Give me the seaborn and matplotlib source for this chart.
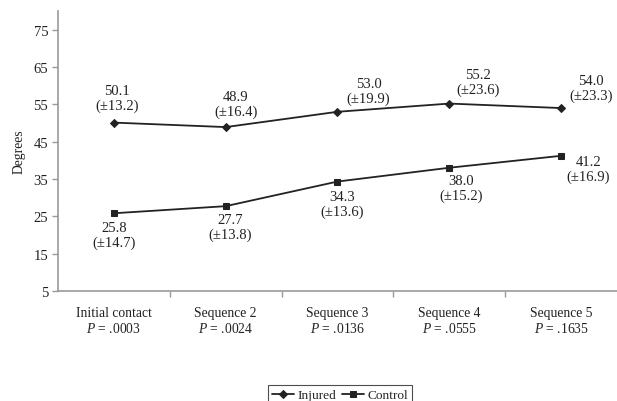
import numpy as np
import pandas as pd
import seaborn as sns
from matplotlib import pyplot as plt
from matplotlib.ticker import FixedLocator

categories = ["Initial contact", "Sequence 2", "Sequence 3", "Sequence 4", "Sequence 5"]
p_values = [".0003", ".0024", ".0136", ".0555", ".1635"]
injured_mean = [50.1, 48.9, 53.0, 55.2, 54.0]
injured_sd = [13.2, 16.4, 19.9, 23.6, 23.3]
control_mean = [25.8, 27.7, 34.3, 38.0, 41.2]
control_sd = [14.7, 13.8, 13.6, 15.2, 16.9]

sns.set_theme(style="white")
plt.rcParams["font.family"] = ["Liberation Serif", "DejaVu Serif"]
plt.rcParams["mathtext.fontset"] = "custom"
plt.rcParams["mathtext.it"] = "Liberation Serif:italic"
plt.rcParams["mathtext.rm"] = "Liberation Serif"

rows = []
for i, c in enumerate(categories):
    rows.append({"pos": i, "value": injured_mean[i], "group": "Injured"})
for i, c in enumerate(categories):
    rows.append({"pos": i, "value": control_mean[i], "group": "Control"})
df = pd.DataFrame(rows)

fig = plt.figure(figsize=(6.17, 4.02), dpi=100)
ax = fig.add_axes([0.094, 0.274, 0.906, 0.696])

ink = "#222222"
sns.lineplot(ax=ax, data=df, x="pos", y="value", hue="group", style="group",
             markers={"Injured": "D", "Control": "s"}, dashes=False,
             palette={"Injured": ink, "Control": ink}, linewidth=1.3,
             markersize=5, markeredgecolor=ink)
for line in ax.lines:
    if line.get_marker() == "D":
        line.set_markersize(4)

# label offsets in pixels (dx, dy) for the "mean (±sd)" annotations
inj_off = [(3, 25), (10, 23), (31, 21), (29, 22), (30, 20)]
con_off = [(0, -22), (4, -21), (5, -22), (12, -20), (27, -13)]
for i in range(len(categories)):
    ax.annotate(f"{injured_mean[i]:.1f}\n(±{injured_sd[i]:.1f})", (i, injured_mean[i]),
                xytext=inj_off[i], textcoords="offset pixels", ha="center", va="center",
                fontsize=10.5, color=ink, linespacing=1.15)
    ax.annotate(f"{control_mean[i]:.1f}\n(±{control_sd[i]:.1f})", (i, control_mean[i]),
                xytext=con_off[i], textcoords="offset pixels", ha="center", va="center",
                fontsize=10.5, color=ink, linespacing=1.15)

ax.set_xlim(-0.5, 4.5)
ax.set_ylim(5, 80)
ax.yaxis.set_major_locator(FixedLocator([5, 15, 25, 35, 45, 55, 65, 75]))
ax.set_xticks(range(len(categories)))
ax.set_xticklabels([f"{c}\n$P$ = {p}" for c, p in zip(categories, p_values)], fontsize=9.8, linespacing=1.2)
ax.xaxis.set_minor_locator(FixedLocator([0.5, 1.5, 2.5, 3.5]))
ax.tick_params(axis="x", which="major", length=0, pad=11, colors=ink)
ax.tick_params(axis="x", which="minor", length=4, width=1, color="#999999", bottom=True)
ax.tick_params(axis="y", length=4, width=1, color="#999999", left=True, labelsize=10.5, labelcolor=ink, pad=3)
ax.set_xlabel("")
ax.set_ylabel("Degrees", fontsize=9.8, color=ink, labelpad=6)

for s in ["top", "right"]:
    ax.spines[s].set_visible(False)
for s in ["left", "bottom"]:
    ax.spines[s].set_color("#999999")
    ax.spines[s].set_linewidth(1.2)

handles, labels = ax.get_legend_handles_labels()
ax.get_legend().remove()
leg = fig.legend(handles, labels, loc="lower center", bbox_to_anchor=(0.551, -0.027), ncol=2,
                 frameon=True, fancybox=False, edgecolor=ink, fontsize=9.6,
                 handlelength=1.7, handletextpad=0.25, columnspacing=0.4, borderpad=0.3)
leg.get_frame().set_linewidth(0.8)

fig.savefig("out.png", dpi=100)
